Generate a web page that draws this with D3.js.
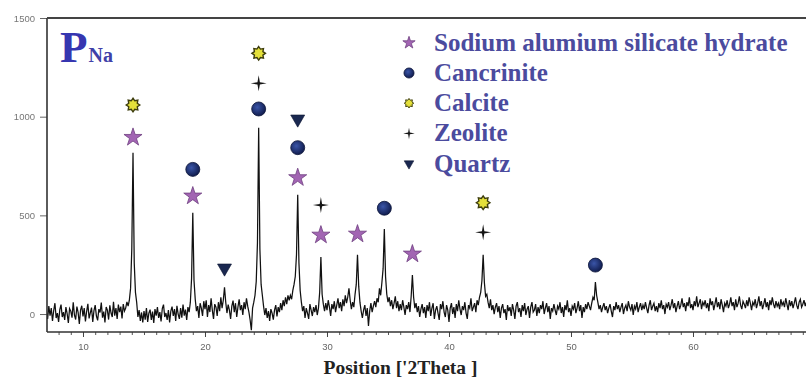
<!DOCTYPE html>
<html>
<head>
<meta charset="utf-8">
<script src="https://cdn.jsdelivr.net/npm/d3@7"></script>
<style>
  html, body { margin: 0; padding: 0; background: #fff; }
  svg { display: block; }
</style>
</head>
<body>
<svg id="chart" width="806" height="379"></svg>
<script>
// XRD scan: counts recorded every 0.1° 2θ; row i starts at scanStart + i degrees.
const scanStart = 7;
const scanStep = 0.1;
const scanRows = [
  /*  7 */ [12, -25, 40, -8, 30, -35, 18, 55, -20, 5],
  /*  8 */ [-40, 22, 48, -15, 10, -30, 35, 2, -45, 28],
  /*  9 */ [15, -18, 60, -5, -28, 38, 8, -50, 20, 42],
  /* 10 */ [-12, 30, -38, 14, 52, -22, 6, 33, -40, 18],
  /* 11 */ [45, -10, -32, 25, 8, 58, -18, 12, -42, 36],
  /* 12 */ [20, -28, 44, 5, -15, 62, -8, 30, -25, 48],
  /* 13 */ [10, 38, -22, 50, 15, 30, 62, 40, 70, 130],
  /* 14 */ [330, 817, 260, 110, 60, -15, 20, -35, 8, -42],
  /* 15 */ [15, -28, 30, -40, 5, 22, -30, 12, -45, 25],
  /* 16 */ [-8, 35, -20, 10, -38, 28, 48, -15, 5, -30],
  /* 17 */ [20, -42, 15, 38, -10, 25, -35, 42, 0, -25],
  /* 18 */ [30, -18, 48, -8, 22, -30, 35, 10, 60, 180],
  /* 19 */ [513, 170, 75, 15, 40, -20, 55, 30, -10, 65],
  /* 20 */ [25, 70, -15, 45, 10, 80, 20, -25, 50, 35],
  /* 21 */ [-10, 60, 15, 85, 30, 70, 135, 60, 5, 48],
  /* 22 */ [20, -25, 40, 68, 10, 55, -15, 35, 75, 20],
  /* 23 */ [45, -5, 60, 25, 80, 40, 10, -30, -82, 30],
  /* 24 */ [60, 95, 165, 360, 944, 330, 150, 95, 40, -5],
  /* 25 */ [30, -20, 15, -35, 25, 5, -28, 20, 45, -12],
  /* 26 */ [35, 10, 55, 20, 70, 40, 85, 50, 95, 70],
  /* 27 */ [95, 75, 120, 150, 190, 300, 604, 260, 120, 60],
  /* 28 */ [15, 40, -20, 30, 5, -25, 50, 20, -10, 35],
  /* 29 */ [10, 45, -5, 30, 110, 289, 100, 50, 15, 55],
  /* 30 */ [20, 70, 35, -10, 50, 25, 65, 10, 45, 80],
  /* 31 */ [30, 60, 15, 75, 40, 95, 55, 85, 130, 70],
  /* 32 */ [25, 60, 35, 100, 150, 300, 140, 60, 15, -20],
  /* 33 */ [20, 45, -10, 30, -60, 15, 55, 10, 40, 65],
  /* 34 */ [35, 80, 60, 130, 95, 160, 230, 431, 190, 100],
  /* 35 */ [60, 85, 40, 70, 25, 55, 90, 30, 65, 15],
  /* 36 */ [50, 20, 70, 35, -5, 45, 25, 60, 10, 90],
  /* 37 */ [198, 85, 30, 55, 10, 40, -15, 25, 50, 5],
  /* 38 */ [35, -20, 45, 15, 60, -10, 30, 55, -25, 20],
  /* 39 */ [40, 5, -30, 50, 25, 65, 10, -15, 45, 20],
  /* 40 */ [-40, 30, 55, 0, 35, -20, 50, 15, 70, 25],
  /* 41 */ [-5, 40, 20, 60, 5, -25, 45, 30, 80, 15],
  /* 42 */ [35, 55, 10, 70, 45, 85, 110, 170, 300, 160],
  /* 43 */ [90, 100, 60, 30, 75, 20, 45, 0, 35, 55],
  /* 44 */ [10, 40, -20, 30, 50, 5, 25, -30, 45, 15],
  /* 45 */ [35, -10, 50, 20, -25, 40, 60, 10, 30, -15],
  /* 46 */ [45, 15, 55, -5, 25, 40, -20, 35, 60, 10],
  /* 47 */ [20, 50, -10, 35, 5, 45, 25, 65, 0, 30],
  /* 48 */ [55, 10, 40, -25, 30, 15, 50, 20, -5, 40],
  /* 49 */ [25, 60, 5, 35, -15, 45, 20, 70, 10, 30],
  /* 50 */ [-10, 40, 25, 55, 5, 30, 65, 15, 45, -20],
  /* 51 */ [35, 10, 50, 25, 60, 40, 20, 55, 85, 70],
  /* 52 */ [162, 95, 60, 25, 45, 10, 35, 55, 20, 40],
  /* 53 */ [5, 30, 50, 15, -15, 40, 20, 60, 25, 45],
  /* 54 */ [10, 35, 55, 0, 30, 45, 15, 65, 35, 20],
  /* 55 */ [50, -5, 40, 25, 60, 10, 35, 55, 20, 45],
  /* 56 */ [25, 60, 30, 5, 45, 70, 20, 40, 55, 15],
  /* 57 */ [40, 10, 55, 30, 70, 25, 45, 0, 50, 35],
  /* 58 */ [60, 20, 45, 75, 30, 55, 10, 40, 65, 25],
  /* 59 */ [45, 80, 35, 55, 15, 60, 40, 85, 30, 50],
  /* 60 */ [20, 65, 40, 90, 35, 55, 75, 25, 60, 45],
  /* 61 */ [70, 30, 55, 15, 80, 45, 65, 20, 50, 85],
  /* 62 */ [35, 60, 25, 75, 45, 10, 55, 40, 70, 30],
  /* 63 */ [50, 85, 40, 60, 20, 75, 35, 55, 90, 45],
  /* 64 */ [25, 65, 50, 30, 70, 40, 85, 55, 20, 60],
  /* 65 */ [45, 75, 30, 55, 90, 40, 65, 25, 50, 80],
  /* 66 */ [35, 60, 20, 70, 45, 85, 50, 30, 65, 40],
  /* 67 */ [55, 25, 75, 45, 60, 35, 80, 50, 20, 70],
  /* 68 */ [40, 65, 30, 55, 85, 45, 25, 60, 75, 35],
  /* 69 */ [50, 70, 40, 60, 30, 80, 45, 65, 55, 35]
];

// Axis ticks
const xTickLabels = [10, 20, 30, 40, 50, 60];
const yTickLabels = [0, 500, 1000, 1500];

// Phase labels: [2θ of the reflection, intensity level where the symbol sits]
const sodiumAluminiumSilicateHydrate = [[14.1, 895], [19.0, 598], [27.6, 691], [29.5, 400], [32.5, 405], [37.0, 304]];
const cancrinite = [[19.0, 733], [24.4, 1039], [27.6, 843], [34.7, 536], [52.0, 248]];
const calcite = [[14.1, 1059], [24.4, 1321], [42.8, 564]];
const zeolite = [[24.4, 1169], [29.5, 552], [42.8, 414]];
const quartz = [[21.6, 233], [27.6, 988]];

const phaseNames = ["Sodium alumium silicate hydrate", "Cancrinite", "Calcite", "Zeolite", "Quartz"];
const phaseKeys = ["star", "circle", "sun", "sparkle", "triangle"];
const phaseMarks = [sodiumAluminiumSilicateHydrate, cancrinite, calcite, zeolite, quartz];

const sampleName = "P";
const sampleSub = "Na";
const xTitle = "Position ['2Theta ]";

// ---- layout ----
const W = 806, H = 379;
const plot = { left: 47, right: 815, top: 18, bottom: 332 };

const x = d3.scaleLinear().domain([7.05, 70]).range([plot.left, plot.right]);
const y = d3.scaleLinear().domain([-91, 1500]).range([plot.bottom, plot.top]);

const svg = d3.select("#chart");
const defs = svg.append("defs");

defs.append("clipPath").attr("id", "plotClip")
  .append("rect")
  .attr("x", plot.left).attr("y", plot.top)
  .attr("width", plot.right - plot.left).attr("height", plot.bottom - plot.top);

defs.append("filter").attr("id", "soft")
  .append("feGaussianBlur").attr("stdDeviation", 0.35);

const ballGrad = defs.append("radialGradient").attr("id", "ball")
  .attr("cx", "40%").attr("cy", "38%").attr("r", "65%");
ballGrad.append("stop").attr("offset", "0%").attr("stop-color", "#3a55a8");
ballGrad.append("stop").attr("offset", "100%").attr("stop-color", "#0f1a4a");

// ---- scan trace ----
const scan = scanRows.flatMap((row, i) =>
  row.map((c, j) => ({ t: scanStart + i + j * scanStep, c })));

svg.append("path")
  .datum(scan)
  .attr("clip-path", "url(#plotClip)")
  .attr("fill", "none")
  .attr("stroke", "#111")
  .attr("stroke-width", 1.25)
  .attr("stroke-linejoin", "miter")
  .attr("d", d3.line().x(d => x(d.t)).y(d => y(d.c)));

// ---- axes ----
const xAxisMinor = d3.axisBottom(x).tickValues(d3.range(8, 70, 1)).tickSize(3).tickFormat("");
svg.append("g").attr("transform", `translate(0,${plot.bottom})`).call(xAxisMinor)
  .call(g => g.select(".domain").remove())
  .call(g => g.selectAll("line").attr("stroke", "#555"));

const xAxis = d3.axisBottom(x).tickValues(xTickLabels).tickSize(5).tickPadding(6).tickFormat(d3.format("d"));
svg.append("g").attr("transform", `translate(0,${plot.bottom})`).call(xAxis)
  .call(g => g.select(".domain").remove())
  .call(g => g.selectAll("line").attr("stroke", "#444"))
  .call(g => g.selectAll("text")
    .attr("fill", "#666").attr("font-family", "Liberation Sans, Arial, sans-serif")
    .attr("font-size", 9.5).attr("filter", "url(#soft)"));

const yAxis = d3.axisLeft(y).tickValues(yTickLabels).tickSize(7).tickPadding(5).tickFormat(d3.format("d"));
svg.append("g").attr("transform", `translate(${plot.left},0)`).call(yAxis)
  .call(g => g.select(".domain").remove())
  .call(g => g.selectAll("line").attr("stroke", "#666"))
  .call(g => g.selectAll("text")
    .attr("fill", "#777").attr("font-family", "Liberation Sans, Arial, sans-serif")
    .attr("font-size", 9.5).attr("filter", "url(#soft)"));

// frame: left and bottom axis lines, top border
svg.append("line").attr("x1", plot.left).attr("x2", plot.left)
  .attr("y1", plot.top).attr("y2", plot.bottom)
  .attr("stroke", "#333").attr("stroke-width", 1.6);
svg.append("line").attr("x1", plot.left).attr("x2", W)
  .attr("y1", plot.bottom).attr("y2", plot.bottom)
  .attr("stroke", "#333").attr("stroke-width", 1.6);
svg.append("line").attr("x1", plot.left).attr("x2", W)
  .attr("y1", plot.top).attr("y2", plot.top)
  .attr("stroke", "#444").attr("stroke-width", 1.8);

svg.append("text")
  .attr("x", (plot.left + W) / 2 - 26).attr("y", 374)
  .attr("text-anchor", "middle")
  .attr("font-family", "Liberation Serif, Times New Roman, serif")
  .attr("font-weight", "bold").attr("font-size", 19.5)
  .attr("fill", "#222")
  .text(xTitle);

// ---- phase symbols ----
function polyStar(points, rOut, rIn) {
  const pts = [];
  for (let k = 0; k < points * 2; k++) {
    const r = k % 2 === 0 ? rOut : rIn;
    const a = -Math.PI / 2 + k * Math.PI / points;
    pts.push([r * Math.cos(a), r * Math.sin(a)]);
  }
  return "M" + pts.map(p => p.map(v => v.toFixed(2)).join(",")).join("L") + "Z";
}

function drawSymbol(g, key, s) {
  // s: scale factor (1 = plot symbols)
  if (key === "star") {
    const r = 9.5 * s;
    g.append("path")
      .attr("d", d3.symbol(d3.symbolStar, r * r / 0.8908130915292852)())
      .attr("fill", "#a265b3").attr("stroke", "#6f3f80").attr("stroke-width", 0.8);
  } else if (key === "circle") {
    g.append("circle").attr("r", 7 * s)
      .attr("fill", "url(#ball)").attr("stroke", "#0b1438").attr("stroke-width", 0.8);
  } else if (key === "sun") {
    g.append("path").attr("d", polyStar(8, 6.8 * s, 4.6 * s))
      .attr("fill", "#e4e03a").attr("stroke", "#3d3d0c").attr("stroke-width", 1.4 * s);
  } else if (key === "sparkle") {
    g.append("path").attr("d", polyStar(4, 8 * s, 1.7 * s))
      .attr("fill", "#151515");
  } else if (key === "triangle") {
    const w = 14 * s, yy = w / (2 * Math.sqrt(3));
    g.append("path")
      .attr("d", d3.symbol(d3.symbolTriangle, yy * yy * Math.sqrt(3) * 3)())
      .attr("transform", "rotate(180)")
      .attr("fill", "#1a2850").attr("stroke", "#0c1430").attr("stroke-width", 0.6);
  }
}

const marks = svg.append("g");
phaseMarks.forEach((list, i) => {
  list.forEach(([t, level]) => {
    const g = marks.append("g").attr("transform", `translate(${x(t)},${y(level)})`);
    drawSymbol(g, phaseKeys[i], 1);
  });
});

// ---- legend ----
const legend = svg.append("g");
const legendScale = [0.68, 0.72, 0.7, 0.72, 0.68];
phaseNames.forEach((name, i) => {
  const baseY = 50.8 + i * 30.2;
  const g = legend.append("g").attr("transform", `translate(409,${baseY - 8})`);
  drawSymbol(g, phaseKeys[i], legendScale[i]);
  legend.append("text")
    .attr("x", 434).attr("y", baseY)
    .attr("font-family", "Liberation Serif, Times New Roman, serif")
    .attr("font-weight", "bold").attr("font-size", 25)
    .attr("fill", "#4b4b9e")
    .text(name);
});

// ---- sample label ----
const title = svg.append("text")
  .attr("x", 60).attr("y", 62)
  .attr("font-family", "Liberation Serif, Times New Roman, serif")
  .attr("font-weight", "bold");
title.append("tspan").attr("font-size", 45).attr("fill", "#3636b0").text(sampleName);
title.append("tspan").attr("font-size", 20).attr("fill", "#4040a8").attr("dx", 1).text(sampleSub);
</script>
</body>
</html>
